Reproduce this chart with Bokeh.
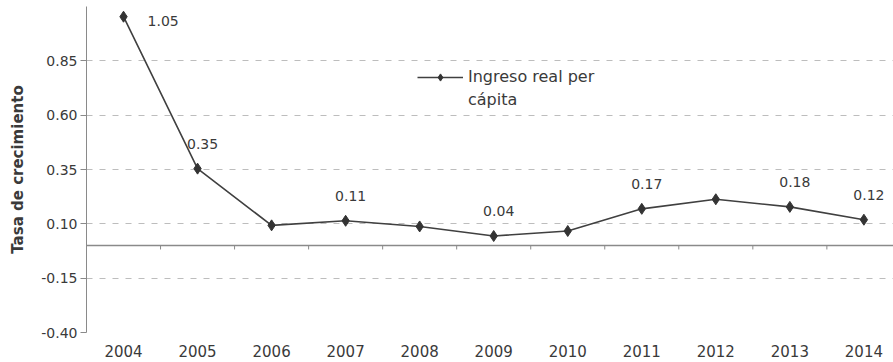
from bokeh.plotting import figure
from bokeh.models import (ColumnDataSource, FixedTicker, NumeralTickFormatter, Span,
                          Legend, LegendItem, Range1d)
from bokeh.core.properties import value
from bokeh.embed import file_html
from bokeh.resources import INLINE

# ---- data ----
years = [2004, 2005, 2006, 2007, 2008, 2009, 2010, 2011, 2012, 2013, 2014]
growth = [1.053, 0.354, 0.093, 0.114, 0.088, 0.044, 0.067, 0.169, 0.213, 0.178, 0.119]
labeled_years = [2005, 2007, 2009, 2011, 2013, 2014]
first_labeled_year = 2004
y_ticks = [-0.40, -0.15, 0.10, 0.35, 0.60, 0.85]
legend_lines = ["Ingreso real per", "cápita"]
y_title = "Tasa de crecimiento"

FONT = "DejaVu Sans"
TXT = "#3a3a3a"

p = figure(width=893, height=362, output_backend="svg", toolbar_location=None,
           x_range=Range1d(2003.5, 2014.40), y_range=Range1d(-0.40, 1.10),
           min_border_left=86, min_border_right=0, min_border_top=6, min_border_bottom=30)
p.outline_line_color = None
p.background_fill_color = "white"

# grid
p.xgrid.grid_line_color = None
p.ygrid.grid_line_color = "#bdbdbd"
p.ygrid.grid_line_dash = "6 7"
p.ygrid.grid_line_width = 1

# y axis
p.yaxis.ticker = FixedTicker(ticks=y_ticks)
p.yaxis.formatter = NumeralTickFormatter(format="0.00")
p.yaxis.minor_tick_line_color = None
p.yaxis.major_tick_out = 6
p.yaxis.major_tick_in = 0
p.yaxis.axis_line_color = "#8a8a8a"
p.yaxis.major_tick_line_color = "#8a8a8a"
p.yaxis.major_label_text_font = FONT
p.yaxis.major_label_text_font_size = "14px"
p.yaxis.major_label_text_color = TXT
p.yaxis.major_label_standoff = 3
p.yaxis.axis_label = y_title
p.yaxis.axis_label_text_font = FONT
p.yaxis.axis_label_text_font_style = "bold"
p.yaxis.axis_label_text_font_size = "15px"
p.yaxis.axis_label_text_color = TXT
p.yaxis.axis_label_standoff = 11

# x axis (labels only, at bottom)
p.xaxis.ticker = FixedTicker(ticks=years)
p.xaxis.minor_tick_line_color = None
p.xaxis.major_tick_line_color = None
p.xaxis.axis_line_color = None
p.xaxis.major_tick_out = 0
p.xaxis.major_tick_in = 0
p.xaxis.major_label_standoff = 12
p.xaxis.major_label_text_font = FONT
p.xaxis.major_label_text_font_size = "15px"
p.xaxis.major_label_text_color = TXT

# zero category axis line with boundary ticks
p.add_layout(Span(location=0, dimension="width", line_color="#8a8a8a", line_width=1.5))
bounds = [y + 0.5 for y in years[:-1]]
p.segment(x0=bounds, x1=bounds, y0=[0] * len(bounds), y1=[-0.018] * len(bounds),
          line_color="#8a8a8a", line_width=1)

# series
src = ColumnDataSource(dict(x=years, y=growth))
ln = p.line("x", "y", source=src, line_color="#404040", line_width=1.6)
mk = p.scatter("x", "y", source=src, marker="diamond", size=11,
               fill_color="#333333", line_color="#333333")
blank = p.line(x=[], y=[], line_alpha=0)

# data labels
lab_y = [growth[years.index(y)] for y in labeled_years]
p.text(x=labeled_years, y=lab_y, text=[f"{v:.2f}" for v in lab_y],
       x_offset=5, y_offset=-25, text_align="center", text_baseline="middle",
       text_font=value(FONT), text_font_size="14px", text_color=TXT)
v0 = growth[years.index(first_labeled_year)]
p.text(x=[first_labeled_year], y=[v0], text=[f"{v0:.2f}"],
       x_offset=24, y_offset=4, text_align="left", text_baseline="middle",
       text_font=value(FONT), text_font_size="14px", text_color=TXT)

legend = Legend(items=[LegendItem(label=legend_lines[0], renderers=[ln, mk]),
                       LegendItem(label=legend_lines[1], renderers=[blank])],
                location=(331, 223), orientation="vertical",
                border_line_alpha=0, background_fill_alpha=0,
                glyph_width=46, glyph_height=18, label_standoff=5,
                padding=0, margin=0, spacing=4, label_height=18,
                label_text_font=FONT, label_text_font_size="16px",
                label_text_color=TXT)
p.add_layout(legend)

open("out.html", "w").write(file_html(p, INLINE))
